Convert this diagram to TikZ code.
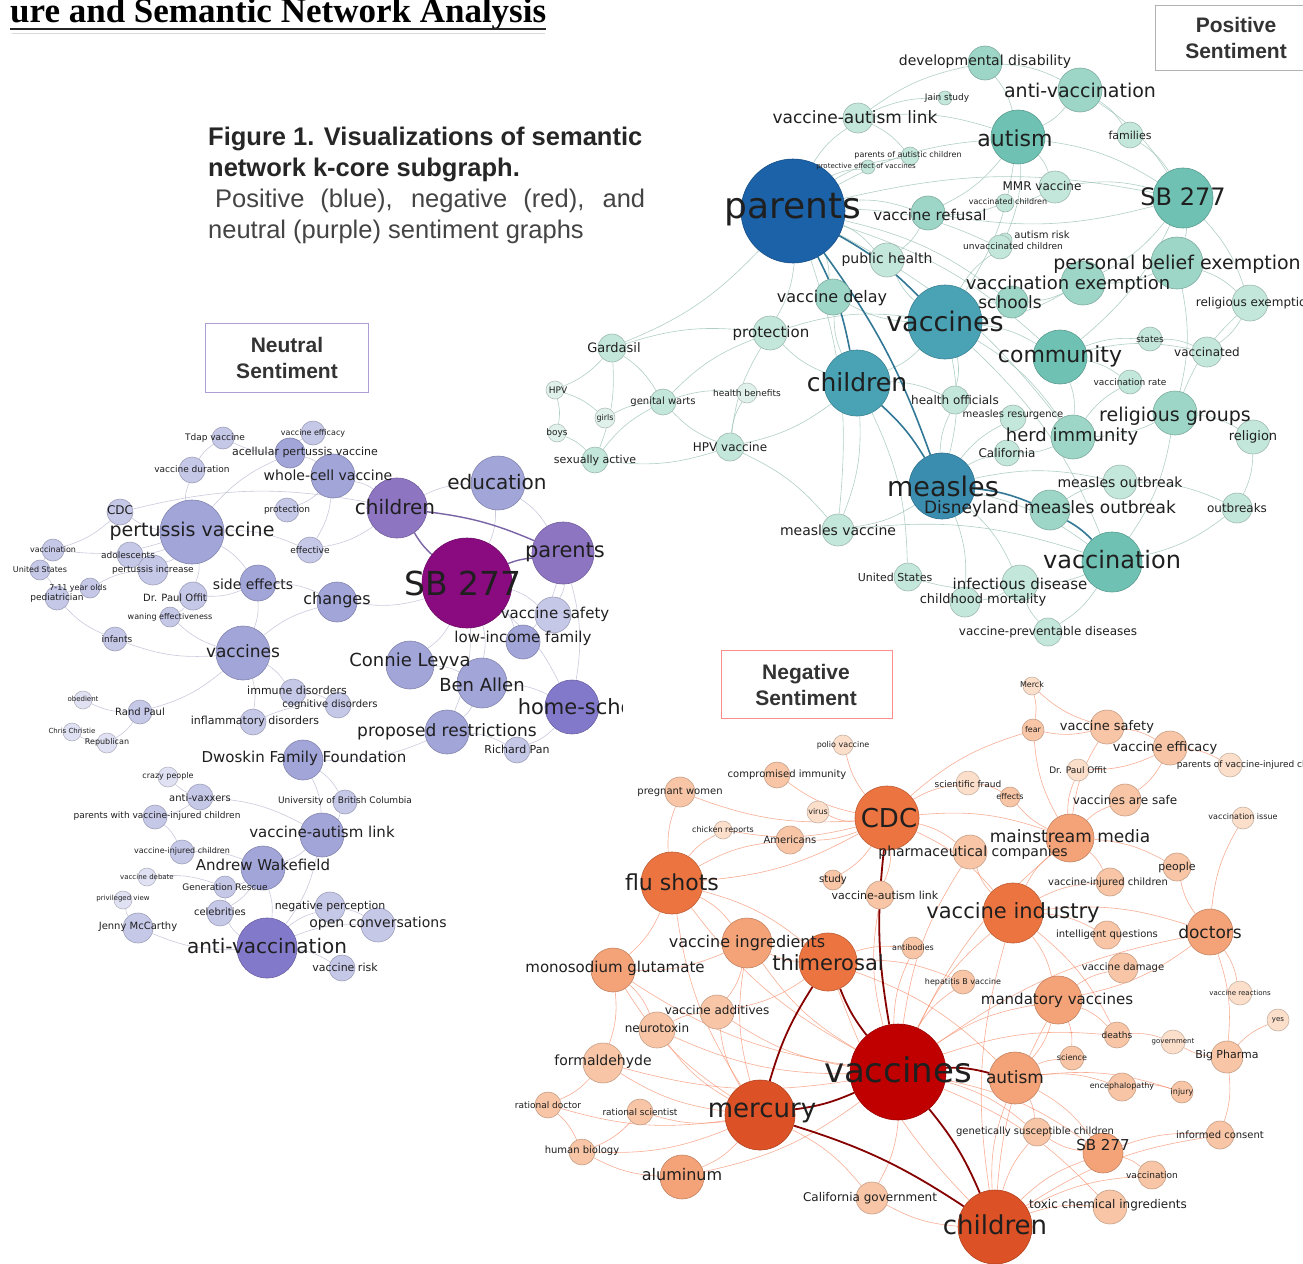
\documentclass[tikz,border=0pt]{standalone}
\usepackage{fontspec}
\setmainfont{Liberation Sans}
\newfontfamily\lblfont{DejaVu Sans}
\newfontfamily\titlefont{Liberation Serif}
\usetikzlibrary{positioning}
\pgfdeclarelayer{bg}
\pgfdeclarelayer{edges}
\pgfdeclarelayer{labels}
\pgfsetlayers{bg,edges,main,labels}

\definecolor{pA}{HTML}{1B62A8}
\definecolor{pB}{HTML}{4AA3B5}
\definecolor{pM}{HTML}{3B8DB0}
\definecolor{pC}{HTML}{6FC2B3}
\definecolor{pD}{HTML}{9DD6C7}
\definecolor{pE}{HTML}{C4E7DC}
\definecolor{pF}{HTML}{E0F1EB}
\definecolor{nA}{HTML}{8A0B80}
\definecolor{nB}{HTML}{8D75C2}
\definecolor{nC}{HTML}{8379CA}
\definecolor{nD}{HTML}{A2A5D8}
\definecolor{nE}{HTML}{C6C8E8}
\definecolor{nF}{HTML}{E0E1F2}
\definecolor{rA}{HTML}{C00000}
\definecolor{rB}{HTML}{DD5126}
\definecolor{rC}{HTML}{EC7441}
\definecolor{rD}{HTML}{F4A379}
\definecolor{rE}{HTML}{F8C6A6}
\definecolor{rF}{HTML}{FBDFCB}
\definecolor{capgray}{HTML}{444444}

\tikzset{
  vnode/.style={circle, inner sep=0pt, line width=0.6pt},
  vlabel/.style={inner sep=0pt, text=black!88},
  pedge/.style={draw=pD!75!gray, line width=0.6pt, opacity=0.75, bend left=12},
  pheavy/.style={draw=pM!85!black, line width=1.6pt, bend left=8},
  nedge/.style={draw=nE!80!gray, line width=0.6pt, opacity=0.75, bend left=12},
  nheavy/.style={draw=nB!85!black, line width=1.4pt, bend left=8},
  redge/.style={draw=rD!85!red, line width=0.6pt, opacity=0.7, bend left=12},
  rheavy/.style={draw=rA!70!black, line width=1.8pt, bend left=8},
  sentbox/.style={draw, fill=white, line width=0.8pt},
  boxtext/.style={font=\bfseries\fontsize{21}{26}\selectfont, text=black!80, align=center}
}

\begin{document}
\begin{tikzpicture}[x=1pt, y=-1pt]
  \useasboundingbox (0,0) rectangle (1303,1263);
  \begin{pgfonlayer}{bg}
    \fill[white] (0,0) rectangle (1303,1263);
  \end{pgfonlayer}

  % heading and caption
  \node[anchor=base west, inner sep=0pt, font=\titlefont\bfseries\fontsize{35}{35}\selectfont] (title) at (10,23) {ure and Semantic Network Analysis};
  \draw[black!85, line width=1.5pt] (10,29) coordinate (ul a) -- (ul a -| title.south east);
  \draw[black!15, line width=1pt] (12,34) -- (545,34);
  \node[anchor=base west, inner sep=0pt, font=\bfseries\fontsize{25.5}{25.5}\selectfont, text=black!85] (cap1) at (208,145) {Figure 1. Visualizations of semantic};
  \node[anchor=base west, inner sep=0pt, font=\bfseries\fontsize{25.5}{25.5}\selectfont, text=black!85] (cap2) at (208,176) {network k-core subgraph.};
  \node[anchor=base west, inner sep=0pt, font=\fontsize{25.5}{25.5}\selectfont, text=capgray] (cap3) at (215,207) {\makebox[430pt][s]{Positive (blue), negative (red), and}};
  \node[anchor=base west, inner sep=0pt, font=\fontsize{25.5}{25.5}\selectfont, text=capgray] (cap4) at (208,238) {neutral (purple) sentiment graphs};

  % sentiment boxes
  \draw[sentbox, draw=gray!60] (1155,5) rectangle (1320,70);
  \node[boxtext] (pos box) at (1236,38) {Positive\\Sentiment};
  \draw[sentbox, draw=nB!70] (205,323) rectangle (368,392);
  \node[boxtext] (neu box) at (287,358) {Neutral\\Sentiment};
  \draw[sentbox, draw=red!45] (721,650) rectangle (892,718);
  \node[boxtext] (neg box) at (806,685) {Negative\\Sentiment};

  % positive sentiment graph
  \foreach \nn/\xx/\yy/\dd/\col/\fsz/\lx/\ly/\txt in {
    par/793/211/104/pA/36/793/210/parents,
    val/858/118/30/pE/17/855/117/vaccine-autism link,
    dd/985/63/34/pD/14/985/62/developmental disability,
    jain/945/98/14/pE/9/947/98/Jain study,
    av/1080/90/44/pD/19/1080/90/anti-vaccination,
    aut/1018/137/54/pC/22/1015/138/autism,
    fam/1130/135/26/pE/11/1130/135/families,
    pac/910/156/18/pE/8/908/155/parents of autistic children,
    pev/868/167/14/pE/7/866/167/protective effect of vaccines,
    mmr/1055/187/32/pE/12/1042/186/MMR vaccine,
    vch/1005/203/18/pE/8/1008/202/vaccinated children,
    sb/1183/198/60/pC/24/1183/197/SB 277,
    vr/928/213/34/pD/15/930/215/vaccine refusal,
    ar/1005/240/14/pE/10/1042/235/autism risk,
    uc/1000/247/24/pE/9/1013/246/unvaccinated children,
    ph/887/260/34/pE/14/887/260/public health,
    pbe/1177/263/52/pD/19/1177/264/personal belief exemption,
    ve/1083/283/44/pD/18/1068/285/vaccination exemption,
    sch/1012/302/32/pD/17/1010/302/schools,
    re/1250/303/36/pE/12/1255/303/religious exemption,
    vd/833/297/36/pD/16/832/298/vaccine delay,
    vac/945/322/74/pB/27/945/321/vaccines,
    pro/770/333/34/pE/15/771/333/protection,
    gar/612/348/28/pE/13/614/348/Gardasil,
    com/1060/357/54/pC/22/1060/356/community,
    st/1150/339/24/pE/9/1150/339/states,
    vtd/1207/352/30/pE/12/1207/352/vaccinated,
    chi/857/383/66/pB/25/857/382/children,
    hpv/555/390/18/pF/9/558/390/HPV,
    girl/605/418/20/pF/8/605/418/girls,
    gw/663/402/26/pE/10/663/402/genital warts,
    hb/747/393/20/pF/9/747/393/health benefits,
    boy/557/433/18/pF/9/557/433/boys,
    sa/595/460/26/pE/11/595/460/sexually active,
    hpvv/730/447/28/pE/12/730/447/HPV vaccine,
    vrate/1130/382/24/pE/9/1130/382/vaccination rate,
    ho/955/400/28/pE/12/955/400/health officials,
    mr/1013/418/26/pE/10/1013/415/measles resurgence,
    rg/1175/413/44/pD/19/1175/416/religious groups,
    rel/1253/437/34/pE/13/1253/437/religion,
    hi/1073/437/44/pD/18/1072/437/herd immunity,
    cal/1007/453/26/pE/12/1007/453/California,
    mea/942/486/66/pM/27/943/486/measles,
    mo/1120/482/34/pE/14/1120/482/measles outbreak,
    dmo/1050/510/40/pD/17/1050/509/Disneyland measles outbreak,
    ob/1237/508/30/pE/12/1237/508/outbreaks,
    mv/838/530/32/pE/14/838/530/measles vaccine,
    vtn/1112/562/60/pC/24/1112/560/vaccination,
    us/908/577/28/pE/11/895/577/United States,
    id/1020/583/36/pE/15/1020/584/infectious disease,
    cm/965/602/30/pE/13/983/600/childhood mortality,
    vpd/1048/632/28/pE/12/1048/632/vaccine-preventable diseases} {
    \node[vnode, fill=\col, draw=\col!80!black] (p-\nn) at (\xx,\yy) [minimum size=\dd] {};
    \begin{pgfonlayer}{labels}
      \node[vlabel, font=\lblfont\fontsize{\fsz}{\fsz}\selectfont] (p-\nn-l) at (\lx,\ly) {\txt};
    \end{pgfonlayer}
  }

  % neutral sentiment graph
  \foreach \nn/\xx/\yy/\dd/\col/\fsz/\lx/\ly/\txt in {
    tdap/223/438/22/nE/9/215/438/Tdap vaccine,
    vef/313/433/24/nE/8/313/433/vaccine efficacy,
    apv/290/453/30/nD/11/305/452/acellular pertussis vaccine,
    vdu/192/470/26/nE/9/192/469/vaccine duration,
    wcv/333/476/44/nD/14/328/475/whole-cell vaccine,
    cdc/120/512/26/nE/12/120/510/CDC,
    prot/287/510/24/nE/9/287/510/protection,
    pv/192/532/64/nD/19/192/531/pertussis vaccine,
    vcn/53/550/22/nE/8/53/550/vaccination,
    ado/130/555/26/nE/9/128/555/adolescents,
    eff/310/550/26/nE/9/310/550/effective,
    usn/40/570/20/nE/8/40/570/United States,
    pi/153/570/30/nE/9/153/570/pertussis increase,
    yo/90/588/20/nE/8/78/588/7-11 year olds,
    se/258/583/36/nD/14/253/584/side effects,
    ped/57/598/24/nE/9/57/598/pediatrician,
    dpo/193/596/28/nE/10/175/598/Dr. Paul Offit,
    chg/337/602/40/nD/16/337/600/changes,
    we/170/617/20/nE/8/170/617/waning effectiveness,
    inf/115/639/24/nE/9/117/639/infants,
    vcs/243/653/54/nD/17/243/651/vaccines,
    ch/397/508/60/nB/20/395/507/children,
    edu/498/483/54/nD/20/497/482/education,
    sb/467/583/90/nA/33/463/583/SB 277,
    par/563/553/62/nB/21/565/552/parents,
    vs/553/615/36/nE/15/555/614/vaccine safety,
    lif/523/642/34/nD/15/523/638/low-income family,
    cl/410/665/48/nD/18/410/662/Connie Leyva,
    ba/482/683/50/nD/18/482/685/Ben Allen,
    prr/447/732/44/nD/17/447/732/proposed restrictions,
    rp/517/750/26/nE/11/517/749/Richard Pan,
    imd/293/692/26/nE/11/297/690/immune disorders,
    cod/338/705/26/nE/10/330/705/cognitive disorders,
    ifd/253/722/26/nE/11/255/721/inflammatory disorders,
    dff/303/760/40/nD/15/304/758/Dwoskin Family Foundation,
    obd/83/700/18/nF/7/83/699/obedient,
    rpl/140/712/24/nE/10/140/712/Rand Paul,
    cc/72/732/18/nF/7/72/731/Chris Christie,
    rep/107/743/20/nF/8/107/742/Republican,
    crz/168/777/20/nF/8/168/776/crazy people,
    avx/200/797/26/nE/10/200/798/anti-vaxxers,
    ubc/345/802/24/nE/9/345/801/University of British Columbia,
    pwv/155/817/24/nE/9/157/816/parents with vaccine-injured children,
    valn/322/835/44/nD/15/322/832/vaccine-autism link,
    vic/182/852/24/nE/8/182/851/vaccine-injured children,
    aw/263/868/44/nD/15/263/865/Andrew Wakefield,
    vdb/147/877/18/nF/7/147/877/vaccine debate,
    gr/225/887/22/nE/9/225/887/Generation Rescue,
    prv/123/900/18/nF/7/123/899/privileged view,
    cel/220/913/26/nE/10/220/912/celebrities,
    np/330/907/30/nE/11/330/906/negative perception,
    oc/378/925/34/nE/14/378/924/open conversations,
    jm/138/928/30/nE/10/138/927/Jenny McCarthy,
    avc/267/948/60/nC/20/267/946/anti-vaccination,
    vrk/342/968/26/nE/11/345/967/vaccine risk} {
    \node[vnode, fill=\col, draw=\col!80!black] (n-\nn) at (\xx,\yy) [minimum size=\dd] {};
    \begin{pgfonlayer}{labels}
      \node[vlabel, font=\lblfont\fontsize{\fsz}{\fsz}\selectfont] (n-\nn-l) at (\lx,\ly) {\txt};
    \end{pgfonlayer}
  }
  \node[vnode, fill=nC, draw=nC!80!black, minimum size=54] (n-hs) at (572,707) {};
  \begin{pgfonlayer}{labels}
    \begin{scope}
      \clip (0,650) rectangle (622,760);
      \node[vlabel, font=\lblfont\fontsize{21}{21}\selectfont] (n-hs-l) at (585,707) {home-school};
    \end{scope}
  \end{pgfonlayer}

  % negative sentiment graph
  \foreach \nn/\xx/\yy/\dd/\col/\fsz/\lx/\ly/\txt in {
    mer/1032/686/18/rF/8/1032/685/Merck,
    fear/1033/730/22/rE/8/1033/730/fear,
    pol/843/745/20/rF/8/843/745/polio vaccine,
    vsf/1107/727/34/rE/13/1107/727/vaccine safety,
    vef/1170/748/34/rE/13/1165/748/vaccine efficacy,
    pvc/1230/765/24/rF/9/1255/765/parents of vaccine-injured children,
    dpo/1078/770/22/rF/9/1078/770/Dr. Paul Offit,
    cim/777/775/26/rE/10/787/775/compromised immunity,
    pw/680/792/30/rE/10/680/792/pregnant women,
    sf/968/783/24/rF/9/968/784/scientific fraud,
    eff/1010/797/20/rE/8/1010/797/effects,
    vas/1125/800/32/rE/12/1125/800/vaccines are safe,
    vi/1243/818/22/rF/8/1243/817/vaccination issue,
    vir/818/812/22/rF/8/818/812/virus,
    cdc/887/818/64/rC/26/889/818/CDC,
    chx/723/830/18/rF/8/723/830/chicken reports,
    ame/790/840/28/rE/10/790/840/Americans,
    msm/1070/838/48/rD/17/1070/836/mainstream media,
    phc/970/852/34/rE/14/973/853/pharmaceutical companies,
    ppl/1177/867/28/rE/11/1177/867/people,
    vic/1110/882/28/rE/10/1108/883/vaccine-injured children,
    flu/672/883/62/rC/22/672/882/flu shots,
    swo/833/880/20/rE/10/833/880/study,
    valr/880/895/28/rE/11/885/895/vaccine-autism link,
    vin/1013/913/60/rC/21/1013/913/vaccine industry,
    iq/1107/935/28/rE/10/1107/935/intelligent questions,
    doc/1210/932/46/rD/17/1210/932/doctors,
    vig/747/943/50/rD/16/747/943/vaccine ingredients,
    ab/913/948/22/rE/8/913/948/antibodies,
    thi/828/962/58/rC/21/828/963/thimerosal,
    msg/613/970/44/rD/15/615/968/monosodium glutamate,
    vdm/1123/968/30/rE/10/1123/968/vaccine damage,
    hbv/963/982/24/rE/8/963/982/hepatitis B vaccine,
    mv/1058/1000/48/rD/15/1057/1000/mandatory vaccines,
    vre/1240/993/24/rF/7/1240/993/vaccine reactions,
    yes/1278/1020/22/rF/7/1278/1020/yes,
    vad/717/1012/34/rE/12/717/1010/vaccine additives,
    neu/657/1030/36/rE/12/657/1028/neurotoxin,
    dth/1117/1035/26/rE/9/1117/1035/deaths,
    gov/1173/1042/24/rF/7/1173/1042/government,
    bp/1227/1057/32/rE/11/1227/1055/Big Pharma,
    sci/1072/1058/24/rE/8/1072/1058/science,
    vcs/898/1072/96/rA/34/898/1070/vaccines,
    aut/1015/1078/52/rD/17/1015/1077/autism,
    fml/603/1063/40/rE/14/603/1062/formaldehyde,
    enc/1122/1087/28/rE/8/1122/1086/encephalopathy,
    inj/1182/1092/22/rE/8/1182/1092/injury,
    mcy/760/1115/70/rB/26/762/1113/mercury,
    rdc/548/1105/26/rE/9/548/1105/rational doctor,
    rsc/640/1112/26/rE/9/640/1112/rational scientist,
    gsc/1037/1132/28/rE/10/1035/1132/genetically susceptible children,
    ic/1220/1135/28/rE/10/1220/1135/informed consent,
    sbn/1103/1153/40/rD/15/1103/1145/SB 277,
    hbi/582/1152/26/rE/10/582/1151/human biology,
    vcn/1152/1175/28/rE/9/1152/1175/vaccination,
    alu/682/1177/44/rD/16/682/1175/aluminum,
    cg/872/1198/32/rE/12/870/1198/California government,
    tci/1110/1207/34/rE/12/1108/1205/toxic chemical ingredients,
    chi/995/1227/74/rB/26/995/1225/children} {
    \node[vnode, fill=\col, draw=\col!80!black] (r-\nn) at (\xx,\yy) [minimum size=\dd] {};
    \begin{pgfonlayer}{labels}
      \node[vlabel, font=\lblfont\fontsize{\fsz}{\fsz}\selectfont] (r-\nn-l) at (\lx,\ly) {\txt};
    \end{pgfonlayer}
  }

  % connectors
  \begin{pgfonlayer}{edges}
    \foreach \a/\b in {par/val, par/vr, par/ph, par/vd, par/pro, par/aut, par/sb, par/mv, par/sch, par/hi, par/com, par/pev, par/pac, par/uc, par/gar,
      val/dd, val/aut, val/jain, val/pac, dd/av, dd/aut, av/aut, av/fam, av/sb, fam/sb, aut/sb, aut/mmr, aut/vr, aut/vac, aut/ar, mmr/vch, mmr/sb, vch/vr,
      sb/pbe, sb/re, sb/ve, sb/vr, sb/com, pbe/ve, pbe/re, pbe/rg, ve/sch, ve/vac, vac/chi, vac/com, vac/mea, vac/sch, vac/vd, vac/ho, vac/hi, vac/vtn, vac/ph, vac/uc,
      com/hi, com/st, com/vrate, com/vtd, st/vtd, rg/rel, rg/vtn, rg/hi, rg/re, chi/pro, chi/ho, chi/mv, chi/hpvv, chi/us, chi/vd,
      mea/mo, mea/cal, mea/mr, mea/vtn, mea/mv, mea/id, mea/cm, mea/ho, dmo/mo, mo/ob, ob/vtn, vtn/id, vtn/vpd, id/cm, id/us, vpd/id,
      gar/hpv, gar/gw, gar/sa, gar/pro, hpv/girl, hpv/boy, girl/gw, boy/sa, sa/gw, gw/hb, gw/pro, hpvv/gw, hpvv/hb, hpvv/pro, hpvv/mv, hpvv/sa,
      pro/vac, rel/ob, re/vtd, mv/vtn, hi/vrate, hi/cal, vr/ph, ar/uc}
      \draw[pedge] (p-\a) to (p-\b);
    \foreach \a/\b in {par/chi, par/mea, chi/mea, mea/dmo, dmo/vtn, par/vac}
      \draw[pheavy] (p-\a) to (p-\b);

    \foreach \a/\b in {pv/cdc, pv/vdu, pv/apv, pv/ado, pv/pi, pv/eff, pv/se, pv/dpo, pv/vcn, vdu/tdap, apv/wcv, apv/vef, apv/tdap, wcv/ch, wcv/prot, wcv/eff,
      ch/edu, ch/eff, edu/sb, edu/par, sb/chg, sb/vs, sb/lif, sb/cl, sb/ba, sb/prr, sb/hs, par/vs, par/hs, par/lif, cl/ba, ba/hs, ba/prr, hs/rp, prr/rp, prr/dff,
      se/vcs, se/dpo, se/chg, vcs/inf, vcs/imd, vcs/we, vcs/ifd, vcs/chg, imd/cod, ifd/cod, dff/valn, dff/ubc, valn/aw, valn/avc, aw/avc, aw/gr, aw/cel,
      avc/cel, avc/jm, avc/np, avc/oc, avc/vrk, avx/crz, avx/pwv, avx/valn, pwv/vic, vic/aw, gr/cel, jm/prv, vdb/gr, rpl/obd, rpl/rep, rep/cc, vcs/rpl,
      usn/vcn, usn/ped, ped/yo, yo/pi, cdc/vcn, pi/ado, dpo/we, inf/ped, cdc/ch, np/oc, ubc/valn}
      \draw[nedge] (n-\a) to (n-\b);
    \foreach \a/\b in {sb/par, sb/ch, ch/par}
      \draw[nheavy] (n-\a) to (n-\b);

    \foreach \a/\b in {vcs/vin, vcs/msm, vcs/flu, vcs/vig, vcs/mv, vcs/gsc, vcs/sbn, vcs/tci, vcs/cg, vcs/alu, vcs/fml, vcs/neu, vcs/vad, vcs/phc, vcs/doc,
      vcs/dth, vcs/hbv, vcs/ab, vcs/valr, vcs/msg, chi/aut, chi/sbn, chi/tci, chi/gsc, chi/cg, chi/vin, chi/mv, chi/thi, chi/vcn, chi/ic,
      mcy/alu, mcy/fml, mcy/neu, mcy/vad, mcy/vig, mcy/hbi, mcy/rsc, mcy/rdc, mcy/cg, mcy/flu, mcy/msg,
      cdc/flu, cdc/phc, cdc/msm, cdc/vin, cdc/sf, cdc/ame, cdc/cim, cdc/pw, cdc/vir, cdc/chx, cdc/pol, cdc/swo, cdc/valr, cdc/fear,
      flu/pw, flu/vig, flu/thi, flu/msg, flu/chx, flu/ame, thi/vig, thi/vad, thi/ab, thi/hbv, thi/aut,
      vin/msm, vin/phc, vin/iq, vin/doc, vin/mv, vin/vic, vin/dth, msm/vas, msm/vsf, msm/fear, msm/dpo, msm/ppl, msm/vic, msm/eff,
      vsf/vef, vsf/fear, vsf/mer, vef/pvc, vef/dpo, vef/vas, doc/vi, doc/ppl, doc/bp, doc/vre, doc/mv, mv/vdm, mv/aut, mv/dth, mv/sci,
      aut/enc, aut/gsc, aut/sci, aut/sbn, aut/inj, bp/gov, bp/ic, bp/yes, sbn/vcn, sbn/gsc, sbn/ic,
      msg/fml, msg/neu, neu/vad, fml/rdc, rdc/hbi, rsc/hbi, alu/hbi, vig/vad, vig/msg, mer/fear, sf/eff, enc/inj, dth/gov}
      \draw[redge] (r-\a) to (r-\b);
    \foreach \a/\b in {vcs/mcy, vcs/chi, vcs/aut, vcs/thi, vcs/cdc, mcy/thi, mcy/chi}
      \draw[rheavy] (r-\a) to (r-\b);
  \end{pgfonlayer}
\end{tikzpicture}
\end{document}
